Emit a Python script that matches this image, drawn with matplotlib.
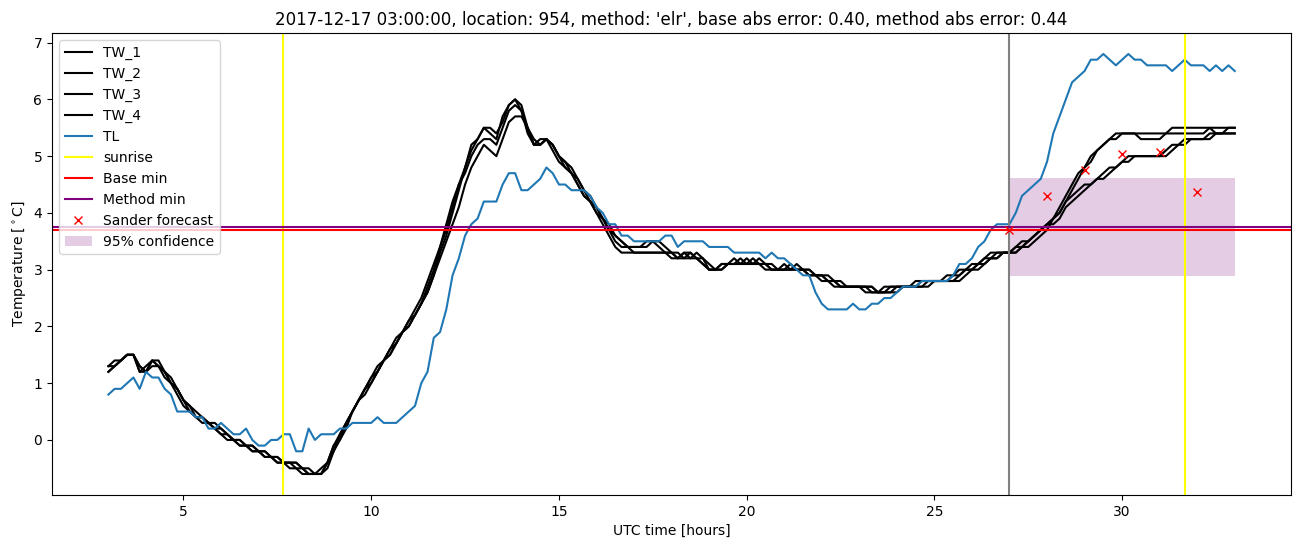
import numpy as np
import matplotlib
matplotlib.use("Agg")
import matplotlib.pyplot as plt

# time axis: 10-minute steps from 03:00 to 33:00 UTC hours
start_hour = 3.0
step_hours = 1.0 / 6.0

tw_1 = [
    1.2, 1.3, 1.4, 1.5, 1.5, 1.2,
    1.3, 1.4, 1.3, 1.1, 1.0, 0.8,
    0.6, 0.5, 0.4, 0.3, 0.3, 0.2,
    0.1, 0.0, 0.0, -0.1, -0.1, -0.2,
    -0.2, -0.3, -0.3, -0.4, -0.4, -0.4,
    -0.5, -0.6, -0.6, -0.6, -0.6, -0.4,
    -0.1, 0.0, 0.2, 0.5, 0.7, 0.9,
    1.0, 1.2, 1.4, 1.5, 1.7, 1.9,
    2.0, 2.2, 2.4, 2.7, 3.0, 3.4,
    3.7, 4.1, 4.5, 4.8, 5.2, 5.3,
    5.5, 5.4, 5.3, 5.7, 5.9, 6.0,
    5.8, 5.4, 5.2, 5.3, 5.3, 5.1,
    4.9, 4.8, 4.7, 4.5, 4.3, 4.2,
    4.0, 3.9, 3.7, 3.5, 3.4, 3.4,
    3.3, 3.3, 3.3, 3.3, 3.3, 3.3,
    3.3, 3.2, 3.2, 3.3, 3.2, 3.1,
    3.0, 3.0, 3.0, 3.1, 3.1, 3.1,
    3.2, 3.1, 3.1, 3.0, 3.0, 3.0,
    3.0, 3.0, 3.0, 3.0, 2.9, 2.9,
    2.9, 2.8, 2.8, 2.7, 2.7, 2.7,
    2.7, 2.7, 2.6, 2.6, 2.6, 2.6,
    2.7, 2.7, 2.7, 2.7, 2.7, 2.8,
    2.8, 2.8, 2.8, 2.8, 2.9, 3.0,
    3.0, 3.1, 3.2, 3.2, 3.3, 3.3,
    3.3, 3.3, 3.4, 3.5, 3.6, 3.7,
    3.8, 3.9, 4.1, 4.3, 4.5, 4.7,
    4.8, 5.0, 5.1, 5.2, 5.3, 5.4,
    5.4, 5.4, 5.4, 5.3, 5.3, 5.3,
    5.3, 5.4, 5.5, 5.5, 5.5, 5.5,
    5.5, 5.5, 5.5, 5.5, 5.5, 5.5,
    5.5,
]

tw_2 = [
    1.3, 1.3, 1.4, 1.5, 1.5, 1.3,
    1.2, 1.4, 1.4, 1.2, 1.0, 0.9,
    0.7, 0.5, 0.4, 0.4, 0.3, 0.2,
    0.2, 0.1, 0.0, 0.0, -0.1, -0.1,
    -0.2, -0.2, -0.3, -0.3, -0.4, -0.4,
    -0.4, -0.5, -0.6, -0.6, -0.5, -0.4,
    -0.1, 0.1, 0.3, 0.5, 0.7, 0.9,
    1.1, 1.2, 1.4, 1.6, 1.7, 1.9,
    2.1, 2.2, 2.4, 2.6, 2.9, 3.3,
    3.6, 4.0, 4.4, 4.8, 5.1, 5.3,
    5.5, 5.5, 5.4, 5.6, 5.9, 6.0,
    5.9, 5.5, 5.2, 5.2, 5.3, 5.2,
    5.0, 4.9, 4.7, 4.6, 4.4, 4.2,
    4.1, 3.9, 3.8, 3.6, 3.5, 3.4,
    3.4, 3.4, 3.4, 3.5, 3.4, 3.3,
    3.3, 3.3, 3.2, 3.2, 3.3, 3.2,
    3.0, 3.0, 3.1, 3.1, 3.2, 3.1,
    3.1, 3.2, 3.1, 3.1, 3.0, 3.0,
    3.1, 3.0, 3.0, 3.0, 3.0, 2.9,
    2.9, 2.9, 2.8, 2.8, 2.7, 2.7,
    2.7, 2.7, 2.7, 2.6, 2.6, 2.6,
    2.6, 2.7, 2.7, 2.7, 2.7, 2.7,
    2.8, 2.8, 2.8, 2.8, 2.8, 2.9,
    3.0, 3.0, 3.1, 3.2, 3.2, 3.3,
    3.3, 3.3, 3.4, 3.4, 3.5, 3.6,
    3.7, 3.9, 4.0, 4.2, 4.4, 4.6,
    4.8, 4.9, 5.1, 5.2, 5.3, 5.3,
    5.4, 5.4, 5.4, 5.4, 5.4, 5.4,
    5.4, 5.4, 5.4, 5.4, 5.4, 5.4,
    5.4, 5.4, 5.5, 5.4, 5.4, 5.4,
    5.4,
]

tw_3 = [
    1.2, 1.3, 1.4, 1.5, 1.5, 1.2,
    1.2, 1.3, 1.3, 1.2, 1.0, 0.9,
    0.7, 0.6, 0.5, 0.4, 0.3, 0.3,
    0.2, 0.1, 0.0, -0.1, -0.1, -0.1,
    -0.2, -0.3, -0.3, -0.3, -0.4, -0.4,
    -0.4, -0.5, -0.5, -0.6, -0.6, -0.4,
    -0.2, 0.0, 0.3, 0.5, 0.7, 0.9,
    1.1, 1.3, 1.4, 1.6, 1.8, 1.9,
    2.1, 2.3, 2.5, 2.8, 3.1, 3.4,
    3.8, 4.2, 4.5, 4.7, 5.0, 5.2,
    5.3, 5.3, 5.2, 5.5, 5.8, 5.9,
    5.8, 5.5, 5.2, 5.2, 5.3, 5.2,
    5.0, 4.8, 4.7, 4.5, 4.3, 4.2,
    4.0, 3.8, 3.6, 3.4, 3.3, 3.3,
    3.3, 3.3, 3.3, 3.3, 3.3, 3.3,
    3.2, 3.2, 3.3, 3.2, 3.2, 3.1,
    3.0, 3.0, 3.1, 3.1, 3.1, 3.2,
    3.1, 3.1, 3.1, 3.1, 3.0, 3.0,
    3.0, 3.1, 3.0, 3.0, 2.9, 2.9,
    2.9, 2.8, 2.7, 2.7, 2.7, 2.7,
    2.7, 2.6, 2.6, 2.6, 2.7, 2.7,
    2.7, 2.7, 2.7, 2.7, 2.8, 2.8,
    2.8, 2.8, 2.8, 2.9, 2.9, 3.0,
    3.1, 3.1, 3.2, 3.3, 3.3, 3.3,
    3.3, 3.4, 3.4, 3.5, 3.6, 3.7,
    3.8, 3.9, 4.0, 4.2, 4.3, 4.4,
    4.5, 4.5, 4.6, 4.7, 4.8, 4.8,
    4.9, 5.0, 5.0, 5.0, 5.0, 5.0,
    5.0, 5.1, 5.2, 5.2, 5.3, 5.3,
    5.3, 5.3, 5.4, 5.4, 5.4, 5.4,
    5.4,
]

tw_4 = [
    1.3, 1.4, 1.4, 1.5, 1.5, 1.3,
    1.2, 1.4, 1.3, 1.2, 1.1, 0.9,
    0.7, 0.6, 0.4, 0.4, 0.3, 0.2,
    0.1, 0.1, 0.0, 0.0, -0.1, -0.2,
    -0.2, -0.2, -0.3, -0.4, -0.4, -0.5,
    -0.5, -0.5, -0.6, -0.6, -0.6, -0.5,
    -0.2, 0.1, 0.3, 0.5, 0.7, 0.8,
    1.0, 1.2, 1.4, 1.5, 1.7, 1.9,
    2.0, 2.2, 2.4, 2.6, 2.9, 3.2,
    3.5, 3.8, 4.1, 4.5, 4.8, 5.0,
    5.2, 5.1, 5.0, 5.3, 5.6, 5.7,
    5.7, 5.5, 5.3, 5.2, 5.3, 5.2,
    5.0, 4.9, 4.8, 4.6, 4.4, 4.3,
    4.1, 3.9, 3.7, 3.6, 3.5, 3.4,
    3.4, 3.4, 3.5, 3.5, 3.5, 3.4,
    3.3, 3.2, 3.3, 3.3, 3.2, 3.2,
    3.1, 3.0, 3.0, 3.1, 3.1, 3.1,
    3.1, 3.1, 3.2, 3.1, 3.1, 3.0,
    3.0, 3.0, 3.1, 3.0, 3.0, 2.9,
    2.8, 2.8, 2.8, 2.7, 2.7, 2.7,
    2.7, 2.7, 2.7, 2.6, 2.6, 2.7,
    2.7, 2.7, 2.7, 2.8, 2.8, 2.8,
    2.8, 2.8, 2.9, 2.9, 3.0, 3.0,
    3.0, 3.1, 3.1, 3.2, 3.2, 3.3,
    3.3, 3.4, 3.5, 3.5, 3.6, 3.7,
    3.8, 3.8, 3.9, 4.1, 4.2, 4.3,
    4.4, 4.5, 4.6, 4.6, 4.7, 4.8,
    4.9, 4.9, 5.0, 5.0, 5.0, 5.0,
    5.0, 5.0, 5.1, 5.2, 5.2, 5.3,
    5.3, 5.3, 5.3, 5.4, 5.4, 5.5,
    5.5,
]

tl = [
    0.8, 0.9, 0.9, 1.0, 1.1, 0.9,
    1.2, 1.1, 1.1, 0.9, 0.8, 0.5,
    0.5, 0.5, 0.4, 0.4, 0.2, 0.2,
    0.3, 0.2, 0.1, 0.1, 0.2, 0.0,
    -0.1, -0.1, 0.0, 0.0, 0.1, 0.1,
    -0.2, -0.2, 0.2, 0.0, 0.1, 0.1,
    0.1, 0.2, 0.2, 0.3, 0.3, 0.3,
    0.3, 0.4, 0.3, 0.3, 0.3, 0.4,
    0.5, 0.6, 1.0, 1.2, 1.8, 1.9,
    2.3, 2.9, 3.2, 3.6, 3.8, 3.9,
    4.2, 4.2, 4.2, 4.5, 4.7, 4.7,
    4.4, 4.4, 4.5, 4.6, 4.8, 4.7,
    4.5, 4.5, 4.4, 4.4, 4.4, 4.3,
    4.1, 4.0, 3.8, 3.8, 3.6, 3.6,
    3.5, 3.5, 3.5, 3.5, 3.5, 3.6,
    3.6, 3.4, 3.5, 3.5, 3.5, 3.5,
    3.4, 3.4, 3.4, 3.4, 3.3, 3.3,
    3.3, 3.3, 3.3, 3.2, 3.3, 3.2,
    3.2, 3.1, 3.0, 2.9, 2.9, 2.6,
    2.4, 2.3, 2.3, 2.3, 2.3, 2.4,
    2.3, 2.3, 2.4, 2.4, 2.5, 2.5,
    2.6, 2.7, 2.7, 2.7, 2.8, 2.8,
    2.8, 2.8, 2.8, 2.9, 3.1, 3.1,
    3.2, 3.4, 3.5, 3.7, 3.8, 3.8,
    3.8, 4.0, 4.3, 4.4, 4.5, 4.6,
    4.9, 5.4, 5.7, 6.0, 6.3, 6.4,
    6.5, 6.7, 6.7, 6.8, 6.7, 6.6,
    6.7, 6.8, 6.7, 6.7, 6.6, 6.6,
    6.6, 6.6, 6.5, 6.6, 6.7, 6.6,
    6.6, 6.6, 6.5, 6.6, 6.5, 6.6,
    6.5,
]

sunrise_hours = [7.64, 31.67]
forecast_start = 27.0
base_min = 3.70
method_min = 3.755
sander_hours = [27, 28, 29, 30, 31, 32]
sander_values = [3.69, 4.30, 4.75, 5.03, 5.08, 4.37]
conf_hours = [27.0, 33.0]
conf_low = 2.88
conf_high = 4.62

title = ("2017-12-17 03:00:00, location: 954, method: 'elr', "
         "base abs error: 0.40, method abs error: 0.44")

times = start_hour + np.arange(len(tl)) * step_hours

fig = plt.figure(figsize=(13.02, 5.47), dpi=100)
ax = fig.add_subplot(111)
fig.subplots_adjust(left=0.040, right=0.9916, bottom=0.0951, top=0.9397)

for name, series in [("TW_1", tw_1), ("TW_2", tw_2), ("TW_3", tw_3), ("TW_4", tw_4)]:
    ax.plot(times, series, color="black", label=name)
ax.plot(times, tl, color="#1f77b4", label="TL")

for i, h in enumerate(sunrise_hours):
    ax.axvline(h, color="yellow", label="sunrise" if i == 0 else None)
ax.axvline(forecast_start, color="grey")
ax.axhline(base_min, color="red", label="Base min")
ax.axhline(method_min, color="purple", label="Method min")
ax.plot(sander_hours, sander_values, "x", color="red", linestyle="none",
        label="Sander forecast")
ax.fill_between(conf_hours, [conf_low, conf_low], [conf_high, conf_high],
                color="purple", alpha=0.2, linewidth=0, label="95% confidence")

ax.set_title(title)
ax.set_xlabel("UTC time [hours]")
ax.set_ylabel(r"Temperature [$^\circ$C]")
ax.legend(loc="upper left")

fig.savefig("out.png", dpi=100)
